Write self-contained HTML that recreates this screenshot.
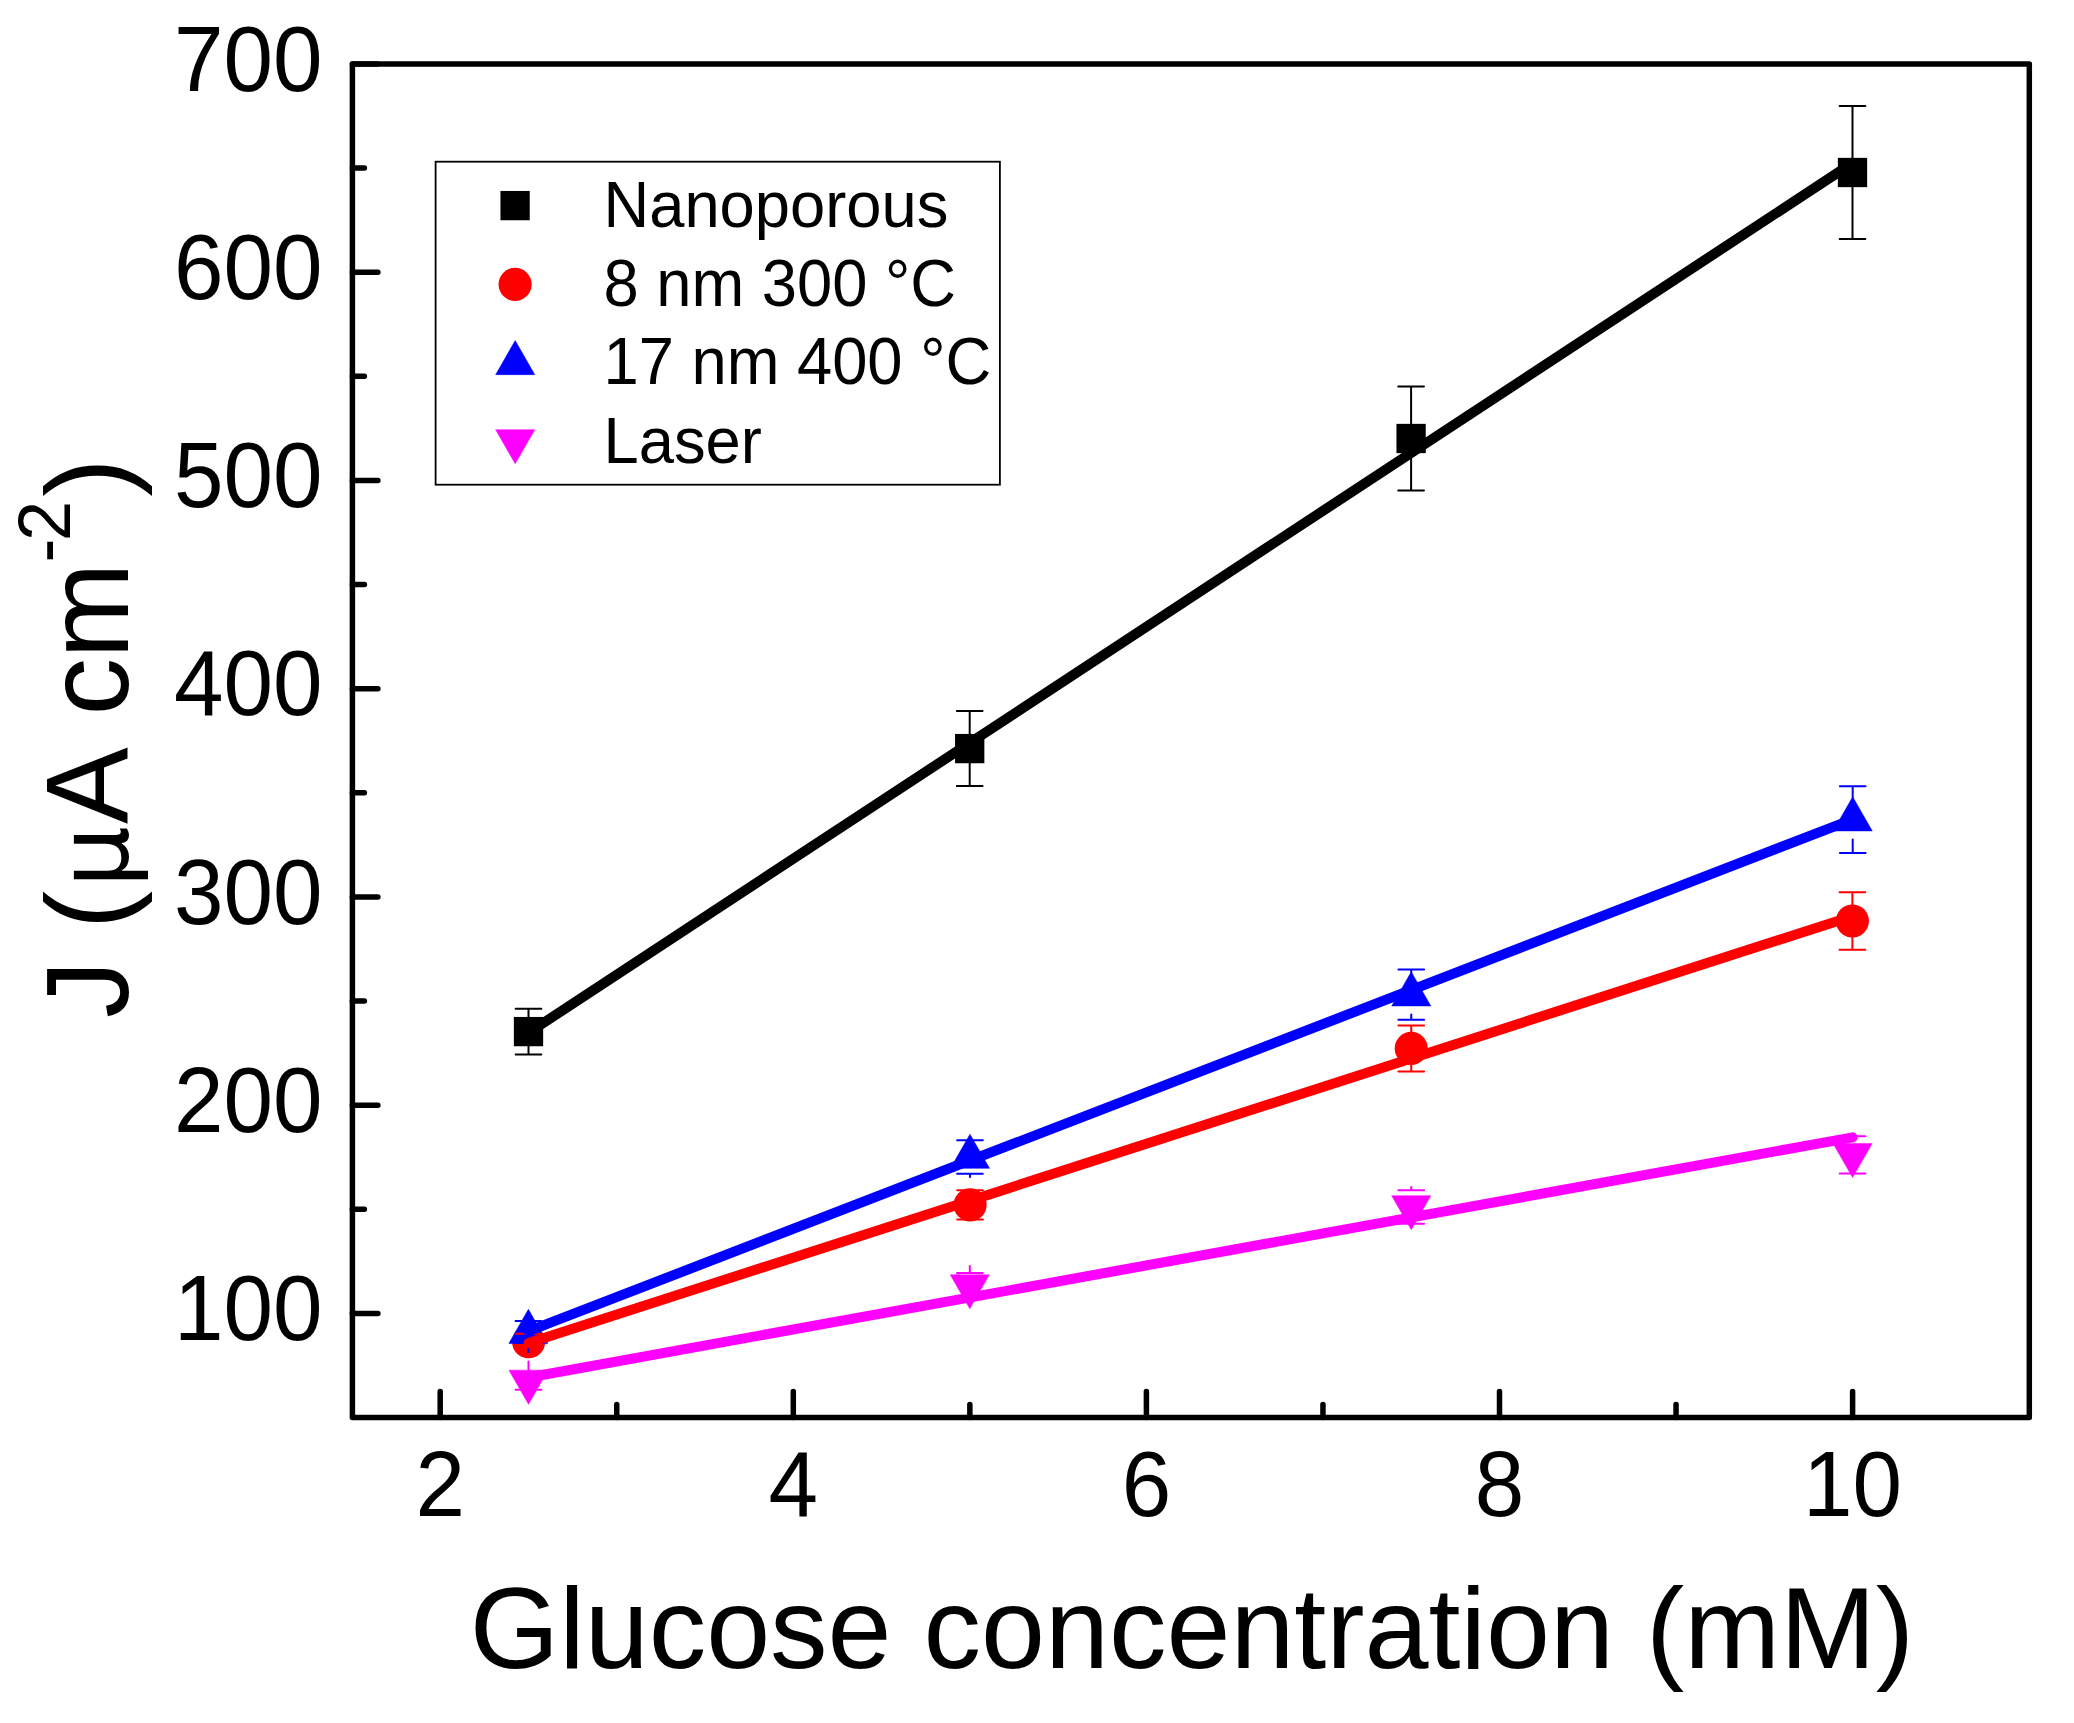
<!DOCTYPE html>
<html lang="en"><head><meta charset="utf-8"><title>Glucose calibration</title>
<style>html,body{margin:0;padding:0;background:#fff}svg{display:block}text{font-family:"Liberation Sans",Arial,sans-serif;fill:#000}.mu{font-family:"DejaVu Sans","Liberation Sans",sans-serif;font-size:96.5px}</style></head><body>
<svg width="2074" height="1723" viewBox="0 0 2074 1723">
<rect width="2074" height="1723" fill="#fff"/>
<g id="symbols">
<rect x="513.85" y="1016.95" width="29.30" height="29.30" fill="#000"/>
<rect x="955.05" y="733.95" width="29.30" height="29.30" fill="#000"/>
<rect x="1396.45" y="423.85" width="29.30" height="29.30" fill="#000"/>
<rect x="1837.85" y="157.85" width="29.30" height="29.30" fill="#000"/>
<circle cx="528.60" cy="1341.80" r="16.55" fill="#f00"/>
<circle cx="970.10" cy="1204.85" r="16.55" fill="#f00"/>
<circle cx="1411.25" cy="1048.40" r="16.55" fill="#f00"/>
<circle cx="1852.40" cy="921.00" r="16.55" fill="#f00"/>
<polygon points="528.40,1309.35 547.95,1343.45 508.85,1343.45" fill="#00f" stroke="#00f" stroke-width="0.5" stroke-linejoin="round"/>
<polygon points="969.97,1134.25 989.52,1168.35 950.42,1168.35" fill="#00f" stroke="#00f" stroke-width="0.5" stroke-linejoin="round"/>
<polygon points="1411.25,971.85 1430.80,1005.95 1391.70,1005.95" fill="#00f" stroke="#00f" stroke-width="0.5" stroke-linejoin="round"/>
<polygon points="1852.70,796.85 1872.25,830.95 1833.15,830.95" fill="#00f" stroke="#00f" stroke-width="0.5" stroke-linejoin="round"/>
<polygon points="528.50,1404.25 548.05,1370.15 508.95,1370.15" fill="#f0f" stroke="#f0f" stroke-width="0.5" stroke-linejoin="round"/>
<polygon points="969.80,1308.85 989.35,1274.75 950.25,1274.75" fill="#f0f" stroke="#f0f" stroke-width="0.5" stroke-linejoin="round"/>
<polygon points="1411.25,1229.75 1430.80,1195.65 1391.70,1195.65" fill="#f0f" stroke="#f0f" stroke-width="0.5" stroke-linejoin="round"/>
<polygon points="1852.60,1177.55 1872.15,1143.45 1833.05,1143.45" fill="#f0f" stroke="#f0f" stroke-width="0.5" stroke-linejoin="round"/>
</g>
<g id="errors">
<g stroke="#000" stroke-width="2" stroke-linecap="round" fill="none">
<path d="M515.65 1008.65H541.35M515.65 1054.55H541.35M528.50 1021.60V1008.65M528.50 1041.60V1054.55"/>
<path d="M956.85 711.10H982.55M956.85 786.10H982.55M969.70 738.60V711.10M969.70 758.60V786.10"/>
<path d="M1398.25 386.40H1423.95M1398.25 490.60H1423.95M1411.10 428.50V386.40M1411.10 448.50V490.60"/>
<path d="M1839.65 105.95H1865.35M1839.65 239.05H1865.35M1852.50 162.50V105.95M1852.50 182.50V239.05"/>
</g>
<g stroke="#f00" stroke-width="2" stroke-linecap="round" fill="none">
<path d="M515.75 1333.80H541.45M515.75 1349.80H541.45M528.60 1329.80V1333.80M528.60 1353.80V1349.80"/>
<path d="M957.25 1190.15H982.95M957.25 1219.55H982.95M970.10 1192.85V1190.15M970.10 1216.85V1219.55"/>
<path d="M1398.40 1025.40H1424.10M1398.40 1071.40H1424.10M1411.25 1036.40V1025.40M1411.25 1060.40V1071.40"/>
<path d="M1839.55 892.20H1865.25M1839.55 949.80H1865.25M1852.40 909.00V892.20M1852.40 933.00V949.80"/>
</g>
<g stroke="#00f" stroke-width="2" stroke-linecap="round" fill="none">
<path d="M515.55 1321.10H541.25M515.55 1343.10H541.25M528.40 1312.10V1321.10M528.40 1352.10V1343.10"/>
<path d="M957.12 1140.25H982.82M957.12 1173.75H982.82M969.97 1137.00V1140.25M969.97 1177.00V1173.75"/>
<path d="M1398.40 969.40H1424.10M1398.40 1019.80H1424.10M1411.25 974.60V969.40M1411.25 1014.60V1019.80"/>
<path d="M1839.85 786.20H1865.55M1839.85 853.00H1865.55M1852.70 799.60V786.20M1852.70 839.60V853.00"/>
</g>
<g stroke="#f0f" stroke-width="2" stroke-linecap="round" fill="none">
<path d="M515.65 1373.30H541.35M515.65 1389.70H541.35M528.50 1361.50V1373.30M528.50 1401.50V1389.70"/>
<path d="M956.95 1273.00H982.65M956.95 1299.20H982.65M969.80 1266.10V1273.00M969.80 1306.10V1299.20"/>
<path d="M1398.40 1190.20H1424.10M1398.40 1223.80H1424.10M1411.25 1187.00V1190.20M1411.25 1227.00V1223.80"/>
<path d="M1839.75 1136.15H1865.45M1839.75 1173.45H1865.45M1852.60 1134.80V1136.15M1852.60 1174.80V1173.45"/>
</g>
</g>
<g id="fits" stroke-width="10" stroke-linecap="round" fill="none">
<line x1="529" y1="1032.4" x2="1852.5" y2="163.0" stroke="#000"/>
<line x1="528.5" y1="1343.0" x2="1852.5" y2="916.2" stroke="#f00"/>
<line x1="528.5" y1="1331.2" x2="1852.7" y2="819.3" stroke="#00f"/>
<line x1="528.5" y1="1377.5" x2="1852.7" y2="1137.3" stroke="#f0f"/>
</g>
<g id="axes" stroke="#000" stroke-width="5.5" stroke-linecap="round" stroke-linejoin="round" fill="none">
<rect x="352.4" y="64.0" width="1676.90" height="1353.50"/>
<path d="M352.4 1313.38h25.5M352.4 1105.15h25.5M352.4 896.92h25.5M352.4 688.69h25.5M352.4 480.46h25.5M352.4 272.23h25.5M352.4 64.00h25.5M352.4 1209.27h12M352.4 1001.04h12M352.4 792.81h12M352.4 584.58h12M352.4 376.35h12M352.4 168.12h12M440.20 1417.5v-26M793.30 1417.5v-26M1146.40 1417.5v-26M1499.50 1417.5v-26M1852.60 1417.5v-26M616.75 1417.5v-13M969.85 1417.5v-13M1322.95 1417.5v-13M1676.05 1417.5v-13"/>
</g>
<g id="ticklabels" font-size="89">
<text transform="translate(322.4 1340) scale(1 1.04)" text-anchor="end">100</text>
<text transform="translate(322.4 1132) scale(1 1.04)" text-anchor="end">200</text>
<text transform="translate(322.4 924) scale(1 1.04)" text-anchor="end">300</text>
<text transform="translate(322.4 715) scale(1 1.04)" text-anchor="end">400</text>
<text transform="translate(322.4 507) scale(1 1.04)" text-anchor="end">500</text>
<text transform="translate(322.4 299) scale(1 1.04)" text-anchor="end">600</text>
<text transform="translate(322.4 91) scale(1 1.04)" text-anchor="end">700</text>
<text transform="translate(440.2 1516) scale(1 1.04)" text-anchor="middle">2</text>
<text transform="translate(793.3 1516) scale(1 1.04)" text-anchor="middle">4</text>
<text transform="translate(1146.4 1516) scale(1 1.04)" text-anchor="middle">6</text>
<text transform="translate(1499.5 1516) scale(1 1.04)" text-anchor="middle">8</text>
<text transform="translate(1852.6 1516) scale(1 1.04)" text-anchor="middle">10</text>
</g>
<text id="xtitle" x="1191.9" y="1668" font-size="115" text-anchor="middle">Glucose concentration (mM)</text>
<text id="ytitle" transform="translate(127.6 741) rotate(-90) scale(1 1.02)" font-size="115"><tspan x="-277.0">J</tspan><tspan x="-219.5"> </tspan><tspan x="-188.3">(</tspan><tspan x="-146.5" class="mu">μ</tspan><tspan x="-83.0">A</tspan><tspan x="-8.0"> </tspan><tspan x="25.6">c</tspan><tspan x="82.5">m</tspan><tspan x="178.6" font-size="72" dy="-56.5">-</tspan><tspan x="200.0" font-size="72">2</tspan><tspan x="244.3" dy="56.5">)</tspan></text>
<g id="legend">
<rect x="435.6" y="161.7" width="564.3" height="323" fill="#fff" stroke="#000" stroke-width="1.8"/>
<rect x="500.45" y="190.95" width="29.3" height="29.3" fill="#000"/>
<circle cx="515.1" cy="284.4" r="16.55" fill="#f00"/>
<polygon points="515.20,340.55 534.75,374.65 495.65,374.65" fill="#00f" stroke="#00f" stroke-width="0.5" stroke-linejoin="round"/>
<polygon points="515.20,463.75 534.75,429.65 495.65,429.65" fill="#f0f" stroke="#f0f" stroke-width="0.5" stroke-linejoin="round"/>
<g font-size="63.3">
<text transform="translate(603.5 227) scale(1 1.02)">Nanoporous</text>
<text transform="translate(603.5 306) scale(1 1.04)">8 nm 300 °C</text>
<text transform="translate(603.5 384) scale(1 1.04)">17 nm 400 °C</text>
<text transform="translate(603.5 463) scale(1 1.02)">Laser</text>
</g></g>
</svg></body></html>
